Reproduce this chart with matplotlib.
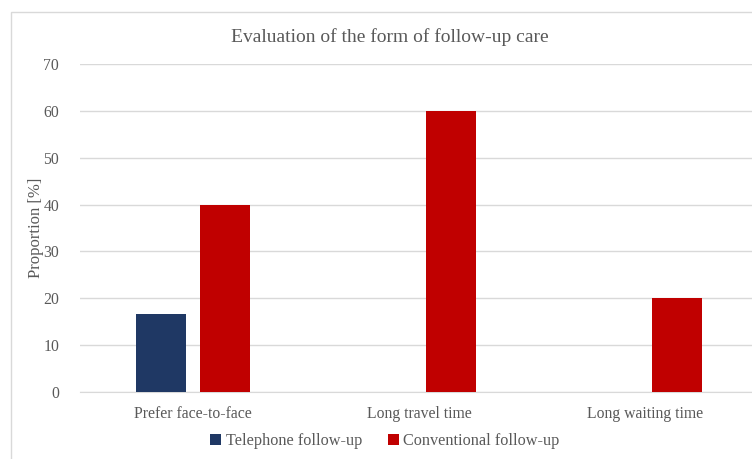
import numpy as np
import matplotlib.pyplot as plt
from matplotlib.patches import Rectangle

# data
categories = ["Prefer face-to-face", "Long travel time", "Long waiting time"]
telephone = [16.7, 0, 0]
conventional = [40, 60, 20]
series_names = ["Telephone follow-up", "Conventional follow-up"]

W, H = 752, 459
plt.rcParams['font.family'] = ['Liberation Serif', 'DejaVu Serif']
txt = '#595959'

fig = plt.figure(figsize=(W / 100, H / 100), dpi=100)
# plot area: x 80..758 px, y 64..392 px
ax = fig.add_axes([80 / W, 1 - 392 / H, 678 / W, 328 / H])

x = np.arange(len(categories))
bw = 0.221
off = 0.1416
ax.bar(x - off, telephone, bw, color='#1F3864', label=series_names[0], zorder=3)
ax.bar(x + off, conventional, bw, color='#C00000', label=series_names[1], zorder=3)

ax.set_xlim(-0.5, 2.5)
ax.set_ylim(0, 70)
ax.set_yticks(range(0, 71, 10))
ax.yaxis.grid(True, color='#D9D9D9', linewidth=1, zorder=0)
for s in ['top', 'right', 'left']:
    ax.spines[s].set_visible(False)
ax.spines['bottom'].set_color('#D9D9D9')
ax.tick_params(axis='both', length=0, colors=txt, labelsize=11.3)
ax.tick_params(axis='y', pad=15)
ax.tick_params(axis='x', pad=10)
ax.set_xticks(x)
ax.set_xticklabels(categories)

# y label placed by hand so it sits just left of the tick labels
fig.text(36 / W, 1 - 228 / H, "Proportion [%]", rotation=90, ha='center', va='center',
         fontsize=12, color=txt)

fig.text(390 / W, 1 - 37 / H, "Evaluation of the form of follow-up care",
         ha='center', va='center', fontsize=14, color=txt)

fig.legend(loc='center', bbox_to_anchor=(385 / W, 1 - 441 / H), ncol=2, frameon=False,
           fontsize=11.7, labelcolor=txt, handlelength=0.65, handleheight=0.65,
           handletextpad=0.3, columnspacing=1.6)

# chart border (cut off on right and bottom in the reference)
fig.patches.append(Rectangle((11 / W, -0.1), 1.2, 1 - 12 / H + 0.1, transform=fig.transFigure,
                             fill=False, edgecolor='#D9D9D9', linewidth=1))

fig.savefig('out.png', dpi=100)
